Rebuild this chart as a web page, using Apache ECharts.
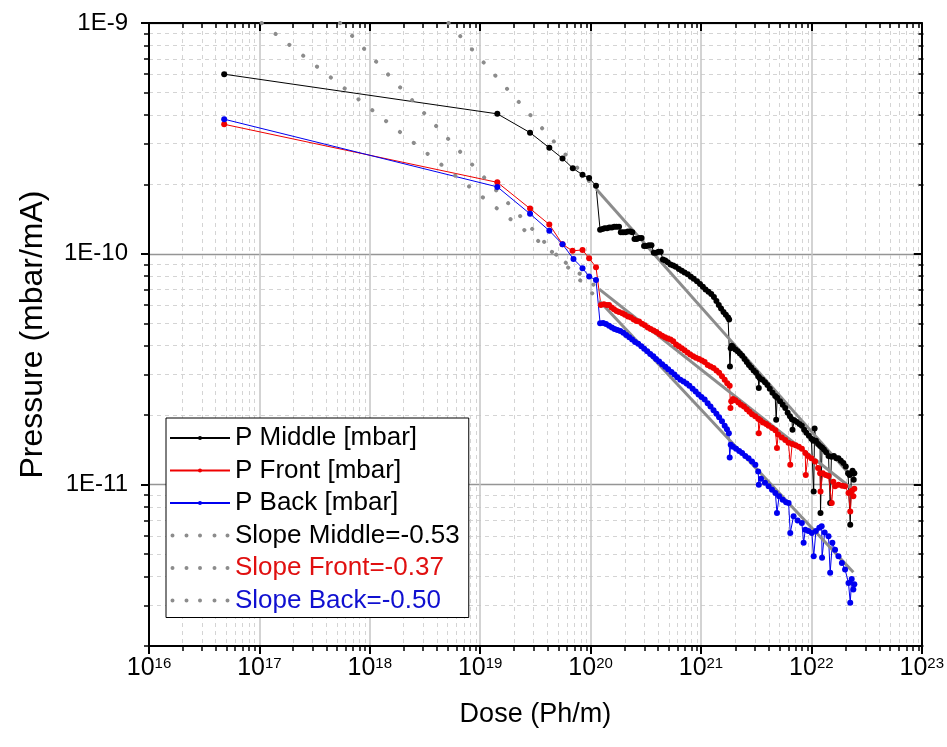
<!DOCTYPE html>
<html>
<head>
<meta charset="utf-8">
<title>Pressure vs dose</title>
<script src="https://cdn.jsdelivr.net/npm/echarts@6/dist/echarts.min.js"></script>
<style>
  html, body { margin: 0; padding: 0; background: #fff; }
  #main { width: 947px; height: 747px; }
</style>
</head>
<body>
<div id="main"></div>
<script>
// measured points, [dose (Ph/m), pressure (mbar/mA)]
var pMiddle = [
  [4.8e16, 6.0e-10], [1.43e19, 4.04e-10], [2.83e19, 3.35e-10], [4.23e19, 2.88e-10], [5.57e19, 2.59e-10],
  [6.9e19, 2.35e-10], [8.45e19, 2.2e-10], [9.7e19, 2.13e-10], [1.12e20, 1.97e-10], [1.22e20, 1.27e-10],
  [1.28e20, 1.28e-10], [1.34e20, 1.29e-10], [1.41e20, 1.29e-10], [1.48e20, 1.3e-10], [1.56e20, 1.3e-10],
  [1.64e20, 1.31e-10], [1.72e20, 1.31e-10], [1.81e20, 1.31e-10], [1.88e20, 1.24e-10], [1.97e20, 1.24e-10],
  [2.07e20, 1.24e-10], [2.18e20, 1.25e-10], [2.29e20, 1.25e-10], [2.39e20, 1.24e-10], [2.5e20, 1.16e-10],
  [2.62e20, 1.16e-10], [2.76e20, 1.17e-10], [2.9e20, 1.17e-10], [3.05e20, 1.08e-10], [3.2e20, 1.08e-10],
  [3.38e20, 1.09e-10], [3.56e20, 1.09e-10], [3.74e20, 1.01e-10], [3.93e20, 1.01e-10], [4.13e20, 1.02e-10],
  [4.32e20, 1.02e-10], [4.52e20, 9.45e-11], [4.75e20, 9.35e-11], [5.0e20, 9.2e-11], [5.3e20, 9.0e-11],
  [5.6e20, 8.9e-11], [5.9e20, 8.8e-11], [6.3e20, 8.6e-11], [6.7e20, 8.45e-11], [7.1e20, 8.3e-11],
  [7.6e20, 8.15e-11], [8.1e20, 7.95e-11], [8.6e20, 7.8e-11], [9.2e20, 7.6e-11], [9.8e20, 7.4e-11],
  [1.04e21, 7.2e-11], [1.1e21, 7.0e-11], [1.17e21, 6.85e-11], [1.24e21, 6.7e-11], [1.31e21, 6.5e-11],
  [1.38e21, 6.25e-11], [1.45e21, 6.0e-11], [1.52e21, 5.8e-11], [1.6e21, 5.6e-11], [1.68e21, 5.45e-11],
  [1.76e21, 5.3e-11], [1.8e21, 5.2e-11], [1.83e21, 3.25e-11], [1.86e21, 3.9e-11], [1.9e21, 4.0e-11],
  [1.95e21, 3.95e-11], [2.05e21, 3.85e-11], [2.15e21, 3.78e-11], [2.25e21, 3.7e-11], [2.36e21, 3.62e-11],
  [2.48e21, 3.5e-11], [2.6e21, 3.4e-11], [2.72e21, 3.3e-11], [2.85e21, 3.22e-11], [3.0e21, 3.12e-11],
  [3.15e21, 3.05e-11], [3.3e21, 2.95e-11], [3.34e21, 2.62e-11], [3.4e21, 2.9e-11], [3.6e21, 2.85e-11],
  [3.8e21, 2.78e-11], [4.0e21, 2.7e-11], [4.2e21, 2.6e-11], [4.45e21, 2.5e-11], [4.7e21, 2.42e-11],
  [4.8e21, 1.91e-11], [4.9e21, 2.38e-11], [5.2e21, 2.3e-11], [5.5e21, 2.22e-11], [5.8e21, 2.15e-11],
  [6.1e21, 2.05e-11], [6.4e21, 1.98e-11], [6.67e21, 1.92e-11], [6.75e21, 1.73e-11], [7.0e21, 1.9e-11],
  [7.4e21, 1.87e-11], [7.8e21, 1.83e-11], [8.2e21, 1.8e-11], [8.6e21, 1.73e-11], [9.0e21, 1.68e-11],
  [9.5e21, 1.63e-11], [1.0e22, 1.58e-11], [1.04e22, 1.55e-11], [1.05e22, 9.35e-12], [1.07e22, 1.75e-11],
  [1.1e22, 1.55e-11], [1.15e22, 1.5e-11], [1.2e22, 1.47e-11], [1.21e22, 7.54e-12], [1.25e22, 1.45e-11],
  [1.3e22, 1.42e-11], [1.36e22, 1.38e-11], [1.43e22, 1.33e-11], [1.48e22, 8.33e-12], [1.52e22, 1.32e-11],
  [1.6e22, 1.33e-11], [1.68e22, 1.3e-11], [1.76e22, 1.3e-11], [1.85e22, 1.27e-11], [1.95e22, 1.24e-11],
  [2.05e22, 1.2e-11], [2.15e22, 1.12e-11], [2.22e22, 1.1e-11], [2.25e22, 6.71e-12], [2.3e22, 1.12e-11],
  [2.36e22, 1.15e-11], [2.42e22, 1.05e-11], [2.45e22, 1.12e-11]
];
var pFront = [
  [4.8e16, 3.64e-10], [1.43e19, 2.04e-10], [2.83e19, 1.57e-10], [4.23e19, 1.34e-10], [5.57e19, 1.1e-10],
  [6.86e19, 1.03e-10], [8.45e19, 1.04e-10], [9.7e19, 9.57e-11], [1.12e20, 8.75e-11], [1.24e20, 6.0e-11],
  [1.32e20, 6.05e-11], [1.4e20, 6.0e-11], [1.47e20, 6.0e-11], [1.55e20, 5.85e-11], [1.63e20, 5.75e-11],
  [1.72e20, 5.65e-11], [1.81e20, 5.6e-11], [1.94e20, 5.53e-11], [2.05e20, 5.45e-11], [2.18e20, 5.35e-11],
  [2.32e20, 5.3e-11], [2.46e20, 5.2e-11], [2.6e20, 5.12e-11], [2.75e20, 5.09e-11], [2.92e20, 4.98e-11],
  [3.1e20, 4.9e-11], [3.3e20, 4.8e-11], [3.5e20, 4.72e-11], [3.72e20, 4.65e-11], [3.95e20, 4.58e-11],
  [4.2e20, 4.5e-11], [4.45e20, 4.42e-11], [4.72e20, 4.35e-11], [5.0e20, 4.3e-11], [5.3e20, 4.25e-11],
  [5.6e20, 4.18e-11], [5.95e20, 4.05e-11], [6.3e20, 3.98e-11], [6.7e20, 3.9e-11], [7.1e20, 3.82e-11],
  [7.55e20, 3.74e-11], [8.0e20, 3.66e-11], [8.5e20, 3.6e-11], [9.0e20, 3.55e-11], [9.6e20, 3.5e-11],
  [1.02e21, 3.45e-11], [1.08e21, 3.4e-11], [1.15e21, 3.3e-11], [1.22e21, 3.25e-11], [1.3e21, 3.2e-11],
  [1.38e21, 3.12e-11], [1.46e21, 3.05e-11], [1.55e21, 2.95e-11], [1.64e21, 2.85e-11], [1.73e21, 2.75e-11],
  [1.82e21, 2.68e-11], [1.85e21, 2.15e-11], [1.88e21, 2.3e-11], [1.95e21, 2.35e-11], [2.05e21, 2.32e-11],
  [2.18e21, 2.27e-11], [2.3e21, 2.22e-11], [2.45e21, 2.18e-11], [2.6e21, 2.12e-11], [2.75e21, 2.07e-11],
  [2.9e21, 2.02e-11], [3.1e21, 1.98e-11], [3.3e21, 1.93e-11], [3.34e21, 1.67e-11], [3.45e21, 1.9e-11],
  [3.65e21, 1.86e-11], [3.9e21, 1.83e-11], [4.1e21, 1.8e-11], [4.4e21, 1.76e-11], [4.72e21, 1.72e-11],
  [4.88e21, 1.44e-11], [5.0e21, 1.65e-11], [5.4e21, 1.6e-11], [5.8e21, 1.56e-11], [6.2e21, 1.52e-11],
  [6.44e21, 1.22e-11], [6.7e21, 1.5e-11], [7.2e21, 1.48e-11], [7.7e21, 1.46e-11], [8.2e21, 1.43e-11],
  [8.8e21, 1.37e-11], [8.9e21, 1.1e-11], [9.3e21, 1.33e-11], [1.0e22, 1.3e-11], [1.08e22, 1.26e-11],
  [1.15e22, 1.18e-11], [1.2e22, 1.12e-11], [1.21e22, 9.35e-12], [1.27e22, 1.12e-11], [1.35e22, 1.1e-11],
  [1.43e22, 1.09e-11], [1.53e22, 8.33e-12], [1.58e22, 1.03e-11], [1.64e22, 9.84e-12], [1.76e22, 1.0e-11],
  [1.9e22, 9.9e-12], [2.02e22, 9.84e-12], [2.17e22, 9.2e-12], [2.25e22, 7.66e-12], [2.32e22, 9.4e-12],
  [2.4e22, 8.9e-12], [2.45e22, 9.6e-12]
];
var pBack = [
  [4.8e16, 3.83e-10], [1.43e19, 1.95e-10], [2.83e19, 1.49e-10], [4.23e19, 1.26e-10], [5.57e19, 1.1e-10],
  [7.0e19, 9.5e-11], [8.45e19, 8.67e-11], [9.7e19, 7.98e-11], [1.12e20, 7.71e-11], [1.22e20, 5.0e-11],
  [1.3e20, 5.02e-11], [1.38e20, 4.97e-11], [1.47e20, 4.88e-11], [1.56e20, 4.8e-11], [1.65e20, 4.72e-11],
  [1.75e20, 4.68e-11], [1.86e20, 4.63e-11], [1.98e20, 4.55e-11], [2.1e20, 4.45e-11], [2.24e20, 4.35e-11],
  [2.38e20, 4.25e-11], [2.53e20, 4.15e-11], [2.7e20, 4.08e-11], [2.88e20, 3.98e-11], [3.06e20, 3.88e-11],
  [3.26e20, 3.78e-11], [3.47e20, 3.68e-11], [3.7e20, 3.6e-11], [3.92e20, 3.5e-11], [4.18e20, 3.42e-11],
  [4.45e20, 3.32e-11], [4.75e20, 3.24e-11], [5.05e20, 3.16e-11], [5.4e20, 3.08e-11], [5.75e20, 3.0e-11],
  [6.1e20, 2.92e-11], [6.5e20, 2.85e-11], [6.95e20, 2.8e-11], [7.4e20, 2.74e-11], [7.85e20, 2.68e-11],
  [8.4e20, 2.6e-11], [8.95e20, 2.53e-11], [9.5e20, 2.46e-11], [1.01e21, 2.4e-11], [1.08e21, 2.34e-11],
  [1.15e21, 2.25e-11], [1.22e21, 2.18e-11], [1.3e21, 2.1e-11], [1.38e21, 2.03e-11], [1.46e21, 1.96e-11],
  [1.55e21, 1.88e-11], [1.64e21, 1.8e-11], [1.72e21, 1.74e-11], [1.79e21, 1.67e-11], [1.82e21, 1.31e-11],
  [1.86e21, 1.49e-11], [1.95e21, 1.46e-11], [2.08e21, 1.43e-11], [2.22e21, 1.4e-11], [2.36e21, 1.37e-11],
  [2.52e21, 1.33e-11], [2.7e21, 1.3e-11], [2.9e21, 1.26e-11], [3.11e21, 1.22e-11], [3.3e21, 1.14e-11],
  [3.34e21, 1.0e-11], [3.5e21, 1.06e-11], [3.8e21, 1.02e-11], [4.1e21, 9.84e-12], [4.4e21, 9.5e-12],
  [4.72e21, 9.2e-12], [4.88e21, 7.54e-12], [5.1e21, 8.9e-12], [5.5e21, 8.6e-12], [5.9e21, 8.4e-12],
  [6.22e21, 8.33e-12], [6.44e21, 6.18e-12], [6.9e21, 7.3e-12], [7.5e21, 7.0e-12], [8.2e21, 6.83e-12],
  [8.51e21, 5.6e-12], [8.81e21, 6.38e-12], [9.4e21, 6.3e-12], [1.01e22, 6.18e-12], [1.05e22, 4.89e-12],
  [1.1e22, 6.3e-12], [1.18e22, 6.5e-12], [1.24e22, 6.6e-12], [1.25e22, 4.82e-12], [1.32e22, 6.2e-12],
  [1.43e22, 5.97e-12], [1.48e22, 4.15e-12], [1.55e22, 5.6e-12], [1.64e22, 5.23e-12], [1.76e22, 4.9e-12],
  [1.89e22, 4.58e-12], [2.02e22, 4.29e-12], [2.17e22, 3.75e-12], [2.25e22, 3.08e-12], [2.32e22, 3.9e-12],
  [2.4e22, 3.51e-12], [2.45e22, 3.7e-12]
];

// fitted lines: [dotted extension start, start of fit range, end of fit range]
var fitMiddle = [[5.17e18, 1e-9], [1.124e20, 1.908e-10], [2.40e22, 1.062e-11]];
var fitFront = [[1.049e17, 1e-9], [1.197e20, 7.036e-11], [2.49e22, 9.39e-12]];
var fitBack = [[5.38e17, 1e-9], [1.197e20, 6.26e-11], [2.40e22, 4.17e-12]];

// ticks (the last one sits a hair inside the axis end so it is not filtered out)
var doseTicks = [1e16, 1e17, 1e18, 1e19, 1e20, 1e21, 1e22, 0.99999e23];
var pressureTicks = [1e-11, 1e-10, 0.99999e-9];
var doseDecades = [16, 17, 18, 19, 20, 21, 22];
var pressureDecades = [-12, -11, -10];
var minorSteps = [2, 3, 4, 5, 6, 7, 8, 9];

function minorTicks(decades) {
    var out = [];
    decades.forEach(function (e) {
        minorSteps.forEach(function (m) {
            out.push(parseFloat(m + 'e' + e));
        });
    });
    return out;
}
var doseMinor = minorTicks(doseDecades);
var pressureMinor = minorTicks(pressureDecades);

var FONT = 'Liberation Sans, Arial, sans-serif';
var gray = '#8c8c8c';
var dotsIcon = 'path://M0,0M60,5M0.5,2.5a2,2 0 1,0 4,0a2,2 0 1,0 -4,0M14.5,2.5a2,2 0 1,0 4,0a2,2 0 1,0 -4,0' +
    'M28,2.5a2,2 0 1,0 4,0a2,2 0 1,0 -4,0M42.5,2.5a2,2 0 1,0 4,0a2,2 0 1,0 -4,0M55.5,2.5a2,2 0 1,0 4,0a2,2 0 1,0 -4,0';

var chart = echarts.init(document.getElementById('main'));

// grid 0 carries the minor ticks / dashed grid, grid 1 the major ones and the data
var gridBox = { left: 149, right: 23.5, top: 23, bottom: 101 };

function minorAxis(pos, min, max, ticks, inside) {
    return {
        type: 'log', logBase: 10, min: min, max: max, gridIndex: 0, position: pos,
        axisLine: { show: false },
        axisTick: { show: true, customValues: ticks, inside: inside, length: 5, lineStyle: { color: '#000', width: 1.5 } },
        axisLabel: { show: false },
        splitLine: { show: !inside, lineStyle: { color: '#d4d4d4', width: 1, type: [4, 4] } }
    };
}

var option = {
    animation: false,
    backgroundColor: '#fff',
    grid: [
        Object.assign({}, gridBox),
        Object.assign({}, gridBox)
    ],
    legend: {
        orient: 'vertical',
        left: 166, top: 418,
        padding: [7, 9, 4, 3],
        itemGap: 6.5,
        itemWidth: 60,
        itemHeight: 5,
        selectedMode: false,
        backgroundColor: '#fff',
        borderColor: '#000',
        borderWidth: 1,
        textStyle: { fontSize: 26, color: '#000', fontFamily: FONT, lineHeight: 25 },
        data: [
            { name: 'P Middle [mbar]' },
            { name: 'P Front [mbar]' },
            { name: 'P Back [mbar]' },
            { name: 'Slope Middle=-0.53', icon: dotsIcon, itemStyle: { color: gray } },
            { name: 'Slope Front=-0.37', textStyle: { color: '#e01010' }, icon: dotsIcon, itemStyle: { color: gray } },
            { name: 'Slope Back=-0.50', textStyle: { color: '#1010d0' }, icon: dotsIcon, itemStyle: { color: gray } }
        ]
    },
    xAxis: [
        minorAxis('bottom', 1e16, 1e23, doseMinor, false),
        minorAxis('top', 1e16, 1e23, doseMinor, true),
        {
            type: 'log', logBase: 10, min: 1e16, max: 1e23, gridIndex: 1, position: 'bottom',
            axisLine: { show: true, onZero: false, lineStyle: { color: '#000', width: 2 } },
            axisTick: { show: true, customValues: doseTicks, length: 8, lineStyle: { color: '#000', width: 2 } },
            axisLabel: {
                customValues: doseTicks,
                margin: 10,
                formatter: function (v) {
                    return '{b|10}{s|' + Math.round(Math.log10(v)) + '}';
                },
                rich: {
                    b: { fontSize: 25, color: '#000', fontFamily: FONT },
                    s: { fontSize: 15, color: '#000', fontFamily: FONT, verticalAlign: 'top' }
                }
            },
            splitLine: { show: true, lineStyle: { color: '#c4c4c4', width: 1.5 } },
            name: 'Dose (Ph/m)', nameLocation: 'middle', nameGap: 55,
            nameTextStyle: { fontSize: 27, color: '#000', fontFamily: FONT }
        },
        {
            type: 'log', logBase: 10, min: 1e16, max: 1e23, gridIndex: 1, position: 'top',
            axisLine: { show: true, onZero: false, lineStyle: { color: '#000', width: 2 } },
            axisTick: { show: true, inside: true, customValues: doseTicks, length: 8, lineStyle: { color: '#000', width: 2 } },
            axisLabel: { show: false },
            splitLine: { show: false }
        }
    ],
    yAxis: [
        minorAxis('left', 2e-12, 1e-9, pressureMinor, false),
        minorAxis('right', 2e-12, 1e-9, pressureMinor, true),
        {
            type: 'log', logBase: 10, min: 2e-12, max: 1e-9, gridIndex: 1, position: 'left',
            axisLine: { show: true, onZero: false, lineStyle: { color: '#000', width: 2 } },
            axisTick: { show: true, customValues: pressureTicks, length: 8, lineStyle: { color: '#000', width: 2 } },
            axisLabel: {
                customValues: pressureTicks,
                margin: 21,
                fontSize: 24, color: '#000', fontFamily: FONT,
                formatter: function (v) {
                    return '1E' + Math.round(Math.log10(v));
                }
            },
            splitLine: { show: true, lineStyle: { color: '#959595', width: 1.3 } },
            name: 'Pressure (mbar/mA)', nameLocation: 'middle', nameGap: 100,
            nameTextStyle: { fontSize: 32, color: '#000', fontFamily: FONT }
        },
        {
            type: 'log', logBase: 10, min: 2e-12, max: 1e-9, gridIndex: 1, position: 'right',
            axisLine: { show: true, onZero: false, lineStyle: { color: '#000', width: 2 } },
            axisTick: { show: true, inside: true, customValues: pressureTicks, length: 8, lineStyle: { color: '#000', width: 2 } },
            axisLabel: { show: false },
            splitLine: { show: false }
        }
    ],
    series: [
        {
            name: 'P Middle [mbar]', type: 'line', xAxisIndex: 2, yAxisIndex: 2,
            data: pMiddle, symbol: 'circle', symbolSize: 6, showAllSymbol: true,
            itemStyle: { color: '#000' }, lineStyle: { color: '#000', width: 1 }
        },
        {
            name: 'P Front [mbar]', type: 'line', xAxisIndex: 2, yAxisIndex: 2,
            data: pFront, symbol: 'circle', symbolSize: 6, showAllSymbol: true,
            itemStyle: { color: '#f00000' }, lineStyle: { color: '#f00000', width: 1 }
        },
        {
            name: 'P Back [mbar]', type: 'line', xAxisIndex: 2, yAxisIndex: 2,
            data: pBack, symbol: 'circle', symbolSize: 6, showAllSymbol: true,
            itemStyle: { color: '#0000f0' }, lineStyle: { color: '#0000f0', width: 1 }
        }
    ]
};

// fit lines: dotted extrapolation + solid fitted range
[['Slope Middle=-0.53', fitMiddle], ['Slope Front=-0.37', fitFront], ['Slope Back=-0.50', fitBack]].forEach(function (f) {
    option.series.push({
        name: f[0], type: 'line', xAxisIndex: 2, yAxisIndex: 2,
        data: f[1].slice(0, 2), symbol: 'none', itemStyle: { color: gray },
        lineStyle: { color: gray, width: 4, type: [0.1, 17.5], cap: 'round' }
    });
    option.series.push({
        name: f[0] + ' fit', type: 'line', xAxisIndex: 2, yAxisIndex: 2,
        data: f[1].slice(1, 3), symbol: 'none',
        lineStyle: { color: gray, width: 3 }
    });
});

chart.setOption(option);
</script>
</body>
</html>
